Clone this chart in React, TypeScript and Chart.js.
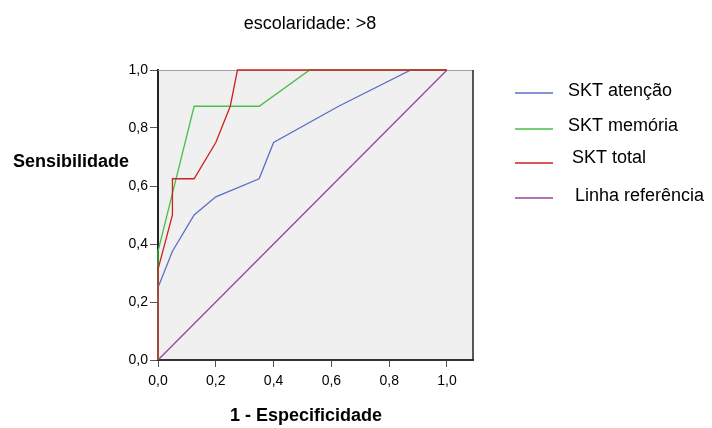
import React, { useEffect, useRef } from "react";
import { Chart, registerables } from "chart.js";

Chart.register(...registerables);

const titleText = "escolaridade: >8";
const xAxisTitle = "1 - Especificidade";
const yAxisTitle = "Sensibilidade";
const tickValues = [0, 0.2, 0.4, 0.6, 0.8, 1.0];

const atencaoX = [0, 0, 0.05, 0.125, 0.2, 0.35, 0.4, 0.625, 0.875, 1];
const atencaoY = [0, 0.25, 0.375, 0.5, 0.5625, 0.625, 0.75, 0.875, 1, 1];
const memoriaX = [0, 0, 0.125, 0.35, 0.525, 1];
const memoriaY = [0, 0.375, 0.875, 0.875, 1, 1];
const totalX = [0, 0, 0.05, 0.05, 0.125, 0.2, 0.25, 0.275, 1];
const totalY = [0, 0.3125, 0.5, 0.625, 0.625, 0.75, 0.875, 1, 1];
const refX = [0, 1];
const refY = [0, 1];

const seriesNames = ["SKT atenção", "SKT memória", "SKT total", "Linha referência"];
const seriesColors = ["#5b70c6", "#48c048", "#cc2222", "#9a449a"];

const FONT = "Arial, 'Liberation Sans', sans-serif";

const toPoints = (xs: number[], ys: number[]) => xs.map((x, i) => ({ x, y: ys[i] }));
const fmt = (v: number) => v.toFixed(1).replace(".", ",");

const decorPlugin = {
  id: "decor",
  beforeDraw(chart: any) {
    const { ctx, chartArea } = chart;
    ctx.save();
    ctx.fillStyle = "#f0f0f0";
    ctx.fillRect(chartArea.left, chartArea.top, chartArea.right - chartArea.left, chartArea.bottom - chartArea.top);
    ctx.restore();
  },
  beforeDatasetsDraw(chart: any) {
    const { ctx, chartArea } = chart;
    ctx.save();
    ctx.strokeStyle = "#a0a0a0";
    ctx.lineWidth = 1;
    ctx.beginPath();
    ctx.moveTo(chartArea.left, chartArea.top + 0.5);
    ctx.lineTo(chartArea.right, chartArea.top + 0.5);
    ctx.stroke();
    ctx.strokeStyle = "#222";
    ctx.lineWidth = 1.5;
    ctx.beginPath();
    ctx.moveTo(chartArea.right, chartArea.top);
    ctx.lineTo(chartArea.right, chartArea.bottom);
    ctx.stroke();
    ctx.restore();
  },
  afterDraw(chart: any) {
    const { ctx } = chart;
    ctx.save();
    ctx.fillStyle = "#000";
    ctx.textBaseline = "middle";
    ctx.textAlign = "center";
    ctx.font = `18px ${FONT}`;
    ctx.fillText(titleText, 310, 24);
    ctx.font = `bold 18px ${FONT}`;
    ctx.fillText(xAxisTitle, 306, 416);
    ctx.textAlign = "left";
    ctx.fillText(yAxisTitle, 13, 162);

    const lineY = [93, 129, 163, 198];
    const textX = [568, 568, 572, 575];
    const textY = [91, 126, 158, 196];
    ctx.font = `18px ${FONT}`;
    seriesNames.forEach((name, i) => {
      ctx.strokeStyle = seriesColors[i];
      ctx.lineWidth = 1.5;
      ctx.beginPath();
      ctx.moveTo(515, lineY[i]);
      ctx.lineTo(553, lineY[i]);
      ctx.stroke();
      ctx.fillStyle = "#000";
      ctx.fillText(name, textX[i], textY[i]);
    });
    ctx.restore();
  },
};

export default function App() {
  const ref = useRef<HTMLCanvasElement | null>(null);
  useEffect(() => {
    if (!ref.current) return;
    const mk = (label: string, xs: number[], ys: number[], color: string, order: number) => ({
      label,
      data: toPoints(xs, ys),
      borderColor: color,
      backgroundColor: color,
      borderWidth: 1.3,
      pointRadius: 0,
      tension: 0,
      fill: false,
      showLine: true,
      clip: 3,
      order,
    });
    const chart = new Chart(ref.current, {
      type: "scatter",
      data: {
        datasets: [
          mk(seriesNames[0], atencaoX, atencaoY, seriesColors[0], 2),
          mk(seriesNames[1], memoriaX, memoriaY, seriesColors[1], 1),
          mk(seriesNames[2], totalX, totalY, seriesColors[2], 0),
          mk(seriesNames[3], refX, refY, seriesColors[3], 3),
        ] as any,
      },
      options: {
        responsive: false,
        animation: false,
        layout: { padding: { left: 0, top: 70, right: 239, bottom: 0 } },
        plugins: { legend: { display: false }, tooltip: { enabled: false }, title: { display: false } },
        scales: {
          x: {
            type: "linear",
            min: 0,
            max: 1.09,
            afterBuildTicks: (axis: any) => {
              axis.ticks = tickValues.map((v) => ({ value: v }));
            },
            afterFit: (s: any) => {
              s.height = 68;
            },
            ticks: {
              callback: (v: any) => fmt(Number(v)),
              color: "#000",
              font: { family: FONT, size: 14 },
              padding: 6,
              maxRotation: 0,
            },
            grid: { drawOnChartArea: false, drawTicks: true, tickLength: 7, color: "#555" },
            border: { display: true, color: "#333", width: 2 },
          },
          y: {
            type: "linear",
            min: 0,
            max: 1,
            afterBuildTicks: (axis: any) => {
              axis.ticks = tickValues.map((v) => ({ value: v }));
            },
            afterFit: (s: any) => {
              s.width = 158;
            },
            ticks: {
              callback: (v: any) => fmt(Number(v)),
              color: "#000",
              font: { family: FONT, size: 14 },
              padding: 2,
            },
            grid: { drawOnChartArea: false, drawTicks: true, tickLength: 8, color: "#555" },
            border: { display: true, color: "#222", width: 2 },
          },
        },
      } as any,
      plugins: [decorPlugin],
    });
    return () => chart.destroy();
  }, []);
  return (
    <div style={{ position: "absolute", left: 0, top: 0, width: 712, height: 428, background: "#fff" }}>
      <canvas ref={ref} width={712} height={428} style={{ width: 712, height: 428, display: "block" }} />
    </div>
  );
}
